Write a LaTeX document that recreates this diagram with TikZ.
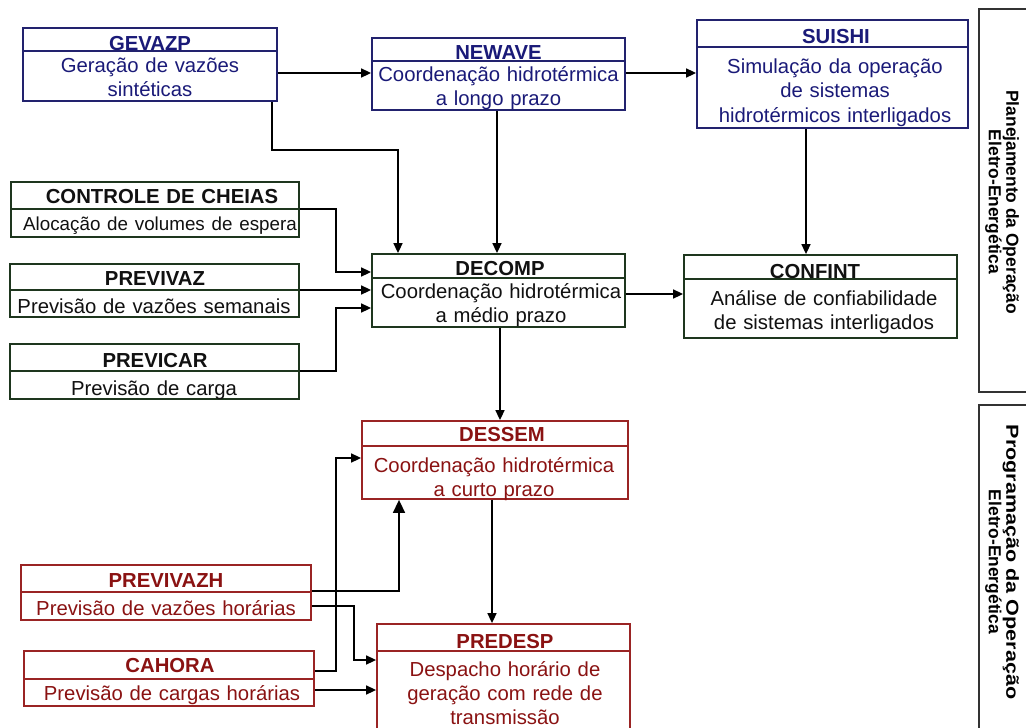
\documentclass[tikz,border=0pt]{standalone}
\usepackage{fontspec}
\setmainfont{Liberation Sans}
\usetikzlibrary{arrows.meta}
\definecolor{bluebd}{HTML}{22226E}
\definecolor{bluetx}{HTML}{1A1A78}
\definecolor{greenbd}{HTML}{1E361E}
\definecolor{greentx}{HTML}{111111}
\definecolor{redbd}{HTML}{9A2424}
\definecolor{redtx}{HTML}{8A1212}
\definecolor{graybd}{HTML}{333333}

% #1 name, #2 kind, #3 x1, #4 y1, #5 x2, #6 y2, #7 y of divider
\newcommand\modbox[7]{%
  \node[draw=#2bd, line width=1.8pt, inner sep=0pt,
        minimum width={(#5-#3)*1pt}, minimum height={(#6-#4)*1pt}]
        (#1) at ({(#3+#5)/2},{(#4+#6)/2}) {};
  \coordinate (#1-d) at (0,#7);
  \draw[draw=#2bd, line width=1.6pt] (#1.west |- #1-d) -- (#1.east |- #1-d);
}
% #1 name, #2 kind, #3 x, #4 baseline y, #5 width, #6 text
\newcommand\modtext[6]{%
  \node[txt, text=#2tx, text width=#5pt] (#1) at (#3,#4) {#6};
}

\begin{document}
\begin{tikzpicture}[x=1pt, y=-1pt,
  txt/.style={font=\fontsize{20.3}{24.7}\selectfont, align=center, anchor=base, inner sep=0pt},
  conn/.style={line width=1.6pt, -{Triangle[length=10pt,width=9pt]}},
  bigconn/.style={line width=1.6pt, -{Triangle[length=13pt,width=12pt]}},
  lbl/.style={font=\fontsize{17.4}{17.5}\selectfont\bfseries, align=center, inner sep=0pt, text=black},
  frame/.style={draw=graybd, line width=1.6pt, inner sep=0pt}
]
\useasboundingbox (0,0) rectangle (1026,728);
\fill[white] (0,0) rectangle (1026,728);
\clip (0,0) rectangle (1026,728);

% ---------- boxes ----------
\modbox{gevazp}{blue}{23}{28}{277}{101}{51}
\modtext{gevazp-t}{blue}{150}{50}{240}{\bfseries GEVAZP}
\modtext{gevazp-b}{blue}{150}{72}{240}{Geração de vazões\\sintéticas}

\modbox{newave}{blue}{372}{38}{625}{110}{61}
\modtext{newave-t}{blue}{498.5}{59}{245}{\bfseries NEWAVE}
\modtext{newave-b}{blue}{498.5}{81}{250}{Coordenação hidrotérmica\\a longo prazo}

\modbox{suishi}{blue}{697}{20}{968}{128}{47}
\modtext{suishi-t}{blue}{836}{43}{260}{\bfseries SUISHI}
\modtext{suishi-b}{blue}{835}{73}{262}{Simulação da operação\\de sistemas\\hidrotérmicos interligados}

\modbox{controle}{green}{11}{182}{299}{237}{209}
\modtext{controle-t}{green}{162}{203}{270}{\bfseries CONTROLE DE CHEIAS}
\modtext{controle-b}{green}{160}{230}{280}{\fontsize{18.8}{23}\selectfont Alocação de volumes de espera}

\modbox{previvaz}{green}{10}{264}{299}{317}{290}
\modtext{previvaz-t}{green}{155}{285}{270}{\bfseries PREVIVAZ}
\modtext{previvaz-b}{green}{154}{313}{282}{Previsão de vazões semanais}

\modbox{previcar}{green}{10}{344}{299}{399}{371}
\modtext{previcar-t}{green}{155}{367}{270}{\bfseries PREVICAR}
\modtext{previcar-b}{green}{154}{395}{270}{Previsão de carga}

\modbox{decomp}{green}{372}{254}{625}{327}{278}
\modtext{decomp-t}{green}{500}{275}{240}{\bfseries DECOMP}
\modtext{decomp-b}{green}{501}{298}{248}{Coordenação hidrotérmica\\a médio prazo}

\modbox{confint}{green}{684}{255}{957}{338}{279}
\modtext{confint-t}{green}{815}{278}{240}{\bfseries CONFINT}
\modtext{confint-b}{green}{824}{305}{262}{\fontsize{20.3}{27}\selectfont Análise de confiabilidade\\de sistemas interligados}

\modbox{dessem}{red}{362}{421}{628}{499}{446}
\modtext{dessem-t}{red}{502}{441}{240}{\bfseries DESSEM}
\modtext{dessem-b}{red}{494}{472}{256}{Coordenação hidrotérmica\\a curto prazo}

\modbox{previvazh}{red}{21}{565}{311}{620}{592}
\modtext{previvazh-t}{red}{166}{587}{270}{\bfseries PREVIVAZH}
\modtext{previvazh-b}{red}{166}{615}{280}{Previsão de vazões horárias}

\modbox{cahora}{red}{24}{651}{314}{706}{679}
\modtext{cahora-t}{red}{170}{672}{270}{\bfseries CAHORA}
\modtext{cahora-b}{red}{172}{700}{280}{Previsão de cargas horárias}

\modbox{predesp}{red}{377}{624}{630}{745}{651}
\modtext{predesp-t}{red}{505}{648}{240}{\bfseries PREDESP}
\modtext{predesp-b}{red}{505}{676}{245}{\fontsize{20.3}{24}\selectfont Despacho horário de\\geração com rede de\\transmissão}

% ---------- side frames ----------
\node[frame, minimum width=62pt, minimum height=383pt] (planfr) at (1010,200.5) {};
\node[lbl, rotate=-90] (plantx) at (1002,202) {Planejamento da Operação\\Eletro-Energética};
\node[frame, minimum width=62pt, minimum height=340pt] (progfr) at (1010,575) {};
\node[lbl, rotate=-90] (progtx) at (1002,562) {\scalebox{1.24}[1]{Programação da Operação}\\Eletro-Energética};

% ---------- helper coordinates ----------
\coordinate (y73) at (0,73);
\coordinate (g1) at (272,150);
\coordinate (g2) at (398,150);
\coordinate (x497) at (497,0);
\coordinate (x806) at (806,0);
\coordinate (y294) at (0,294);
\coordinate (k1) at (336,209);
\coordinate (k2) at (0,272);
\coordinate (y290) at (0,290);
\coordinate (k3) at (336,371);
\coordinate (k4) at (0,308);
\coordinate (x500) at (500,0);
\coordinate (x492) at (492,0);
\coordinate (k5) at (399,591);
\coordinate (k6) at (354,606);
\coordinate (k7) at (0,660);
\coordinate (k8) at (336,671);
\coordinate (k9) at (0,458);
\coordinate (y690) at (0,690);

% ---------- connectors ----------
\draw[conn] (gevazp.east |- y73) -- (newave.west |- y73);
\draw[conn] (gevazp.south -| g1) -- (g1) -- (g2) -- (decomp.north -| g2);
\draw[conn] (newave.south -| x497) -- (decomp.north -| x497);
\draw[conn] (newave.east |- y73) -- (suishi.west |- y73);
\draw[conn] (suishi.south -| x806) -- (confint.north -| x806);
\draw[conn] (decomp.east |- y294) -- (confint.west |- y294);
\draw[conn] (controle.east |- k1) -- (k1) |- (decomp.west |- k2);
\draw[conn] (previvaz.east |- y290) -- (decomp.west |- y290);
\draw[conn] (previcar.east |- k3) -- (k3) |- (decomp.west |- k4);
\draw[conn] (decomp.south -| x500) -- (dessem.north -| x500);
\draw[conn] (dessem.south -| x492) -- (predesp.north -| x492);
\draw[bigconn] (previvazh.east |- k5) -- (k5) -- (dessem.south -| k5);
\draw[conn] (previvazh.east |- k6) -- (k6) |- (predesp.west |- k7);
\draw[conn] (cahora.east |- k8) -- (k8) |- (dessem.west |- k9);
\draw[conn] (cahora.east |- y690) -- (predesp.west |- y690);
\end{tikzpicture}
\end{document}
